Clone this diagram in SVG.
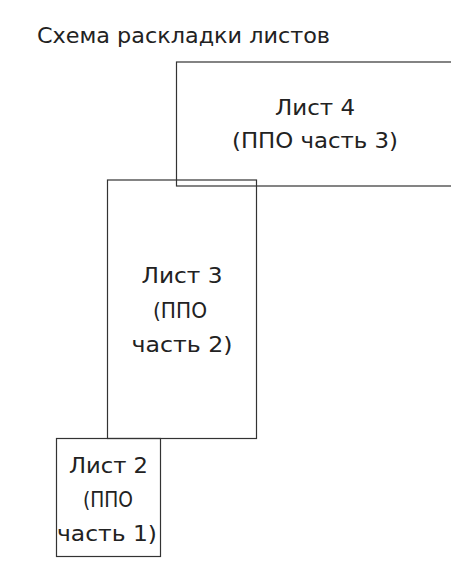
<svg xmlns="http://www.w3.org/2000/svg" width="451" height="573" viewBox="0 0 451 573">
<style>
.box{fill:none;stroke:#333;stroke-width:1.2}
text{font-family:"DejaVu Sans Condensed","DejaVu Sans",sans-serif;font-size:22px;fill:#222;text-anchor:middle}
.title{text-anchor:start}
</style>
<rect width="451" height="573" fill="#fff"/>
<text class="title" x="37" y="43" textLength="293" lengthAdjust="spacingAndGlyphs">Схема раскладки листов</text>
<g id="sheet4">
<rect class="box" x="176.5" y="62" width="278" height="124"/>
<text x="315" y="115" textLength="80" lengthAdjust="spacingAndGlyphs">Лист 4</text>
<text x="315" y="148" textLength="166" lengthAdjust="spacingAndGlyphs">(ППО часть 3)</text>
</g>
<g id="sheet3">
<rect class="box" x="107.5" y="180" width="149" height="258.5"/>
<text x="182" y="283" textLength="81" lengthAdjust="spacingAndGlyphs">Лист 3</text>
<text x="180" y="318" textLength="54" lengthAdjust="spacingAndGlyphs">(ППО</text>
<text x="182" y="352" textLength="101" lengthAdjust="spacingAndGlyphs">часть 2)</text>
</g>
<g id="sheet2">
<rect class="box" x="56.5" y="438.5" width="104" height="118"/>
<text x="108.5" y="473" textLength="79" lengthAdjust="spacingAndGlyphs">Лист 2</text>
<text x="108" y="507" textLength="50" lengthAdjust="spacingAndGlyphs">(ППО</text>
<text x="107" y="541" textLength="100" lengthAdjust="spacingAndGlyphs">часть 1)</text>
</g>
<g id="connectors"/>
</svg>
